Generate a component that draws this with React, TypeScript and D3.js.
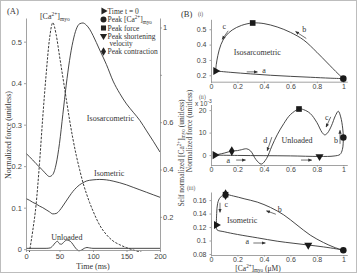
import { useEffect, useRef } from 'react';
import * as d3 from 'd3';

const W = 357;
const H = 273;

const SERIF = '"Liberation Serif", "Times New Roman", serif';
const SANS = '"Liberation Sans", Arial, sans-serif';
const AXIS = '#8a8a8a';
const TICK_TEXT = '#444';
const INK = '#333';

// ---- (A) time courses ----
const timeMs = [0, 5, 10, 15, 20, 25, 30, 35, 40, 45, 50, 55, 60, 65, 70, 75, 80, 85, 90, 95, 100, 110, 120, 130, 140, 150, 160, 170, 180, 190, 200];
const caNorm = [-0.03, 0.05, 0.14, 0.25, 0.42, 0.62, 0.8, 0.95, 1.02, 0.97, 0.88, 0.79, 0.7, 0.61, 0.53, 0.46, 0.4, 0.345, 0.3, 0.26, 0.225, 0.165, 0.125, 0.098, 0.082, 0.07, 0.06, 0.052, 0.045, 0.04, 0.035];
const forceIsosarcometric = [0.231, 0.223, 0.215, 0.206, 0.198, 0.19, 0.181, 0.175, 0.18, 0.205, 0.255, 0.325, 0.395, 0.455, 0.5, 0.53, 0.543, 0.545, 0.54, 0.53, 0.515, 0.48, 0.445, 0.405, 0.375, 0.35, 0.33, 0.31, 0.285, 0.26, 0.234];
const forceIsometric = [0.122, 0.118, 0.113, 0.109, 0.104, 0.1, 0.095, 0.09, 0.085, 0.086, 0.093, 0.104, 0.116, 0.128, 0.139, 0.148, 0.155, 0.16, 0.164, 0.166, 0.167, 0.168, 0.167, 0.164, 0.16, 0.155, 0.149, 0.143, 0.137, 0.131, 0.125];
const unloadedTimeMs = [0, 30, 36, 40, 44, 47, 50, 53, 57, 61, 64, 68, 72, 76, 79, 83, 87, 91, 95, 100, 130, 200];
const forceUnloaded = [0.002, 0.002, 0.003, 0.008, 0.016, 0.019, 0.013, 0.012, 0.018, 0.022, 0.021, 0.016, 0.007, -0.001, -0.004, -0.002, 0.002, 0.004, 0.003, 0.002, 0.002, 0.002];

const timeTicks = [0, 50, 100, 150, 200];
const forceTicks = [0, 0.1, 0.2, 0.3, 0.4, 0.5];
const caTicks = [0.2, 0.4, 0.6, 0.8, 1];
const caTickLabels = ['0.2', '0.4', '0.6', '', '1'];

// ---- (B) force vs [Ca2+] loops ----
const loopIsosarcCa = [0.035, 0.15, 0.3, 0.45, 0.6, 0.75, 0.9, 1.0, 0.96, 0.88, 0.8, 0.7, 0.6, 0.5, 0.4, 0.315, 0.23, 0.16, 0.11, 0.075, 0.052, 0.04, 0.035];
const loopIsosarcForce = [0.228, 0.219, 0.209, 0.2, 0.193, 0.187, 0.181, 0.178, 0.21, 0.28, 0.35, 0.43, 0.48, 0.515, 0.537, 0.541, 0.525, 0.495, 0.455, 0.4, 0.33, 0.27, 0.228];

const loopUnloadedCa = [0.03, 0.2, 0.4, 0.6, 0.82, 0.93, 0.975, 0.993, 1.0, 0.995, 0.98, 0.962, 0.94, 0.91, 0.88, 0.86, 0.84, 0.8, 0.75, 0.7, 0.665, 0.6, 0.55, 0.5, 0.46, 0.42, 0.38, 0.34, 0.3, 0.27, 0.23, 0.2, 0.157, 0.1, 0.03];
const loopUnloadedForce = [0, -0.15, -0.25, -0.35, -0.6, -0.4, 0.3, 2.5, 7.8, 12, 17, 19.5, 17.5, 13, 9.8, 9, 10, 14.5, 18.5, 20.2, 20.5, 18, 14, 9, 4, -1.5, -4, -2, 1.8, 2.8, 2.4, 2.0, 1.8, 0.9, 0];

const loopIsometricCa = [0.04, 0.045, 0.1, 0.2, 0.35, 0.5, 0.62, 0.735, 0.85, 0.95, 1.0, 0.93, 0.85, 0.75, 0.65, 0.55, 0.45, 0.35, 0.25, 0.17, 0.11, 0.07, 0.05, 0.043, 0.04];
const loopIsometricForce = [0.123, 0.116, 0.113, 0.109, 0.104, 0.099, 0.096, 0.0933, 0.0905, 0.0875, 0.0855, 0.09, 0.097, 0.108, 0.123, 0.138, 0.149, 0.157, 0.162, 0.166, 0.168, 0.164, 0.155, 0.14, 0.123];

// event markers: [kind, ca, force]
const isosarcEvents: [string, number, number][] = [['start', 0.035, 0.228], ['caPeak', 1.0, 0.178], ['forcePeak', 0.315, 0.541]];
const unloadedEvents: [string, number, number][] = [['start', 0.03, 0], ['contraction', 0.157, 1.8], ['forcePeak', 0.665, 20.5], ['velocity', 0.82, -0.6], ['caPeak', 1.0, 7.8]];
const isometricEvents: [string, number, number][] = [['start', 0.04, 0.123], ['contraction', 0.11, 0.168], ['forcePeak', 0.11, 0.168], ['velocity', 0.735, 0.0933], ['caPeak', 1.0, 0.0855]];

const caLoopTicks = [0, 0.2, 0.4, 0.6, 0.8, 1];
const isosarcTicks = [0.2, 0.3, 0.4, 0.5];
const unloadedTicks = [0, 10, 20];
const isometricTicks = [0.08, 0.1, 0.12, 0.14, 0.16];

const legendItems: [string, string][] = [
  ['start', 'Time t = 0'],
  ['caPeak', 'Peak [Ca]'],
  ['forcePeak', 'Peak force'],
  ['velocity', 'Peak shortening'],
  ['contraction', 'Peak contraction'],
];

function markerPath(kind: string, size = 26) {
  switch (kind) {
    case 'start': return d3.symbol(d3.symbolTriangle, size)();
    case 'velocity': return d3.symbol(d3.symbolTriangle, size)();
    case 'caPeak': return d3.symbol(d3.symbolCircle, size + 6)();
    case 'forcePeak': return d3.symbol(d3.symbolSquare, size + 4)();
    default: return d3.symbol(d3.symbolDiamond, size)();
  }
}
const markerRotation: Record<string, number> = { start: 90, velocity: 180 };

function styleAxis(g: any, size = 7.5) {
  g.attr('font-family', SANS).attr('font-size', size);
  g.select('.domain').attr('stroke', AXIS).attr('stroke-width', 0.8);
  g.selectAll('.tick line').attr('stroke', AXIS).attr('stroke-width', 0.8);
  g.selectAll('.tick text').attr('fill', TICK_TEXT);
}

// "[Ca2+]myo" with super/subscripts
function caLabel(text: any, before: string, after: string, size: number) {
  const small = size * 0.68;
  text.append('tspan').text(`${before}[Ca`);
  text.append('tspan').attr('dy', -size * 0.38).attr('font-size', small).text('2+');
  text.append('tspan').attr('dy', size * 0.38).text(']');
  text.append('tspan').attr('dy', size * 0.25).attr('font-size', small).text('myo');
  text.append('tspan').attr('dy', -size * 0.25).text(after);
}

export default function App() {
  const svgRef = useRef<SVGSVGElement>(null);

  useEffect(() => {
    const svg = d3.select(svgRef.current);
    svg.selectAll('*').remove();

    svg.append('rect').attr('x', 0.5).attr('y', 0.5).attr('width', W - 1).attr('height', H - 1)
      .attr('fill', '#fff').attr('stroke', '#bdbdbd');

    const defs = svg.append('defs');
    defs.append('marker').attr('id', 'arrow-head')
      .attr('viewBox', '0 0 6 6').attr('refX', 5).attr('refY', 3)
      .attr('markerWidth', 4).attr('markerHeight', 4)
      .attr('markerUnits', 'userSpaceOnUse').attr('orient', 'auto')
      .append('path').attr('d', 'M0,0.6L6,3L0,5.4Z').attr('fill', INK);
    defs.append('clipPath').attr('id', 'clip-a')
      .append('rect').attr('x', 26).attr('y', 18).attr('width', 134).attr('height', 234);

    // ================= (A) =================
    const xT = d3.scaleLinear().domain([0, 200]).range([26, 160]);
    const yF = d3.scaleLinear().domain([-0.002, 0.557]).range([250, 18]);
    const yCa = d3.scaleLinear().domain([0.06, 1.04]).range([250, 18]);

    const a = svg.append('g');

    const lineF = d3.line<number>().x((_, i) => xT(timeMs[i])).y(d => yF(d)).curve(d3.curveMonotoneX);
    const lineCa = d3.line<number>().x((_, i) => xT(timeMs[i])).y(d => yCa(d)).curve(d3.curveMonotoneX);
    const lineUnl = d3.line<number>().x((_, i) => xT(unloadedTimeMs[i])).y(d => yF(d)).curve(d3.curveMonotoneX);

    const curves = a.append('g').attr('clip-path', 'url(#clip-a)').attr('fill', 'none');
    curves.append('path').attr('d', lineCa(caNorm)).attr('stroke', '#222').attr('stroke-width', 0.9).attr('stroke-dasharray', '2.4,1.4');
    curves.append('path').attr('d', lineF(forceIsosarcometric)).attr('stroke', INK).attr('stroke-width', 0.9);
    curves.append('path').attr('d', lineF(forceIsometric)).attr('stroke', INK).attr('stroke-width', 0.9);
    curves.append('path').attr('d', lineUnl(forceUnloaded)).attr('stroke', INK).attr('stroke-width', 0.9);

    styleAxis(a.append('g').attr('transform', 'translate(26,0)')
      .call(d3.axisLeft(yF).tickValues(forceTicks).tickFormat(d => String(d)).tickSize(2).tickSizeOuter(0).tickPadding(2)));
    styleAxis(a.append('g').attr('transform', 'translate(0,250)')
      .call(d3.axisBottom(xT).tickValues(timeTicks).tickFormat(d => String(d)).tickSize(2).tickSizeOuter(0).tickPadding(2)));
    styleAxis(a.append('g').attr('transform', 'translate(160,0)')
      .call(d3.axisRight(yCa).tickValues(caTicks).tickFormat((_, i) => caTickLabels[i]).tickSize(2).tickSizeOuter(0).tickPadding(1)));

    const serifText = (g: any, x: number, y: number, size: number, anchor = 'middle') =>
      g.append('text').attr('x', x).attr('y', y).attr('font-family', SERIF).attr('font-size', size)
        .attr('fill', INK).attr('text-anchor', anchor);

    serifText(a, 7, 14, 8.5, 'start').text('(A)');
    serifText(a, xT(126), yF(0.31), 8).text('Isosarcometric');
    serifText(a, xT(124), yF(0.176), 8).text('Isometric');
    serifText(a, xT(61), yF(0.022), 8).text('Unloaded');
    caLabel(serifText(a, xT(43), 19, 8), '', '', 8);
    serifText(a, 93, 269, 8).text('Time (ms)');
    serifText(a, 0, 0, 8).attr('transform', 'translate(11,135) rotate(-90)').text('Normalized force (unitless)');

    // legend
    const leg = a.append('g');
    const legRows = [13.5, 22, 30.5, 38.5, 54];
    legendItems.forEach(([kind, label], i) => {
      const y = legRows[i];
      leg.append('path').attr('d', markerPath(kind, 22))
        .attr('transform', `translate(103.5,${y - 2.5}) rotate(${markerRotation[kind] ?? 0})`)
        .attr('fill', '#222');
      const t = serifText(leg, 107.5, y, 7.5, 'start');
      if (kind === 'caPeak') caLabel(t, 'Peak ', '', 7.5);
      else t.text(label);
    });
    serifText(leg, 121, 46, 7.2).text('velocity');

    // ================= (B) =================
    const xB = d3.scaleLinear().domain([0, 1.03]).range([211, 347.3]);
    const b = svg.append('g');

    serifText(b, 181, 17, 8.5, 'start').text('(B)');

    const panels = [
      {
        tag: '(i)', tagX: 198, tagY: 16,
        y: d3.scaleLinear().domain([0.158, 0.565]).range([81.7, 19.3]),
        ticks: isosarcTicks, fmt: (d: number) => String(d),
        ca: loopIsosarcCa, force: loopIsosarcForce, breakAt: 7, events: isosarcEvents,
        label: ['Isosarcometric', 0.35, 0.33],
      },
      {
        tag: '(ii)', tagX: 199, tagY: 99,
        y: d3.scaleLinear().domain([-4.4, 22.5]).range([165, 104.5]),
        ticks: unloadedTicks, fmt: (d: number) => String(d),
        ca: loopUnloadedCa, force: loopUnloadedForce, breakAt: -1, events: unloadedEvents,
        label: ['Unloaded', 0.65, 5.3],
      },
      {
        tag: '(iii)', tagX: 187, tagY: 190,
        y: d3.scaleLinear().domain([0.0785, 0.172]).range([255, 192]),
        ticks: isometricTicks, fmt: (d: number) => String(+d.toFixed(2)),
        ca: loopIsometricCa, force: loopIsometricForce, breakAt: 10, events: isometricEvents,
        label: ['Isometric', 0.235, 0.126],
      },
    ];

    panels.forEach(p => {
      const g = b.append('g');
      const [y0] = p.y.range();
      styleAxis(g.append('g').attr('transform', `translate(211,0)`)
        .call(d3.axisLeft(p.y).tickValues(p.ticks).tickFormat(d => p.fmt(+d)).tickSize(1.5).tickSizeOuter(0).tickPadding(3)), 7);
      styleAxis(g.append('g').attr('transform', `translate(0,${y0})`)
        .call(d3.axisBottom(xB).tickValues(caLoopTicks).tickFormat(d => String(d)).tickSize(1.5).tickSizeOuter(0).tickPadding(0.5)), 7);

      const line = d3.line<number>().x(i => xB(p.ca[i])).y(i => p.y(p.force[i])).curve(d3.curveCatmullRom.alpha(0.5));
      const idx = p.ca.map((_, i) => i);
      const segs = p.breakAt > 0 ? [idx.slice(0, p.breakAt + 1), idx.slice(p.breakAt)] : [idx];
      segs.forEach(s => {
        g.append('path').attr('d', line(s))
          .attr('fill', 'none').attr('stroke', INK).attr('stroke-width', 0.9);
      });

      p.events.forEach(([kind, ca, f]) => {
        g.append('path').attr('d', markerPath(kind, kind === 'contraction' && p.tag === '(iii)' ? 34 : 28))
          .attr('transform', `translate(${xB(ca)},${p.y(f)}) rotate(${markerRotation[kind] ?? 0})`)
          .attr('fill', '#1a1a1a');
      });

      const [txt, lx, ly] = p.label as [string, number, number];
      serifText(g, xB(lx), p.y(ly), 8).text(txt);
      serifText(g, p.tagX, p.tagY, 5.5, 'start').attr('fill', '#555').text(p.tag);
    });

    const [pI, pII, pIII] = panels;

    // direction arrows and phase letters
    const arrow = (x1: number, y1: number, x2: number, y2: number) =>
      b.append('line').attr('x1', x1).attr('y1', y1).attr('x2', x2).attr('y2', y2)
        .attr('stroke', INK).attr('stroke-width', 0.7).attr('marker-end', 'url(#arrow-head)');
    const letter = (x: number, y: number, s: string) => serifText(b, x, y, 8).text(s);

    arrow(xB(0.27), pI.y(0.222), xB(0.35), pI.y(0.222));
    letter(xB(0.4), pI.y(0.212), 'a');
    arrow(xB(0.72), pI.y(0.44), xB(0.64), pI.y(0.485));
    letter(xB(0.705), pI.y(0.485), 'b');
    arrow(xB(0.13), pI.y(0.49), xB(0.085), pI.y(0.435));
    letter(xB(0.1), pI.y(0.5), 'c');

    arrow(xB(0.19), pII.y(-2.2), xB(0.26), pII.y(-2.2));
    letter(xB(0.13), pII.y(-3.6), 'a');
    arrow(xB(0.68), pII.y(-2.2), xB(0.76), pII.y(-2.2));
    arrow(xB(0.975), pII.y(5), xB(0.975), pII.y(11));
    letter(xB(0.945), pII.y(5.2), 'b');
    arrow(xB(0.905), pII.y(17), xB(0.87), pII.y(12.5));
    letter(xB(0.875), pII.y(15.5), 'c');
    arrow(xB(0.46), pII.y(8), xB(0.425), pII.y(2));
    letter(xB(0.41), pII.y(5.5), 'd');

    arrow(xB(0.32), pIII.y(0.0963), xB(0.41), pIII.y(0.0963));
    letter(xB(0.275), pIII.y(0.0945), 'a');
    arrow(xB(0.49), pIII.y(0.139), xB(0.42), pIII.y(0.144));
    letter(xB(0.52), pIII.y(0.143), 'b');
    arrow(xB(0.068), pIII.y(0.156), xB(0.068), pIII.y(0.142));
    letter(xB(0.115), pIII.y(0.149), 'c');

    // exponent for panel (ii)
    const ex = b.append('text').attr('x', 195).attr('y', 105.5).attr('font-family', SANS).attr('font-size', 6.5).attr('fill', TICK_TEXT);
    ex.append('tspan').text('x 10');
    ex.append('tspan').attr('dy', -2.5).attr('font-size', 5).text('-3');

    // shared axis titles for (B)
    caLabel(serifText(b, 0, 0, 7.5).attr('fill', '#444').attr('transform', 'translate(183.5,153) rotate(-90)'), 'Self normalized ', ' (unitless)', 7.5);
    serifText(b, 0, 0, 7.5).attr('fill', '#444').attr('transform', 'translate(191.5,131) rotate(-90)').text('Normalized force (unitless)');
    caLabel(serifText(b, 258, 270.5, 7.5), '', ' (μM)', 7.5);
  }, []);

  return (
    <svg ref={svgRef} width={W} height={H}
      style={{ position: 'fixed', left: 0, top: 0, background: '#fff' }} />
  );
}
